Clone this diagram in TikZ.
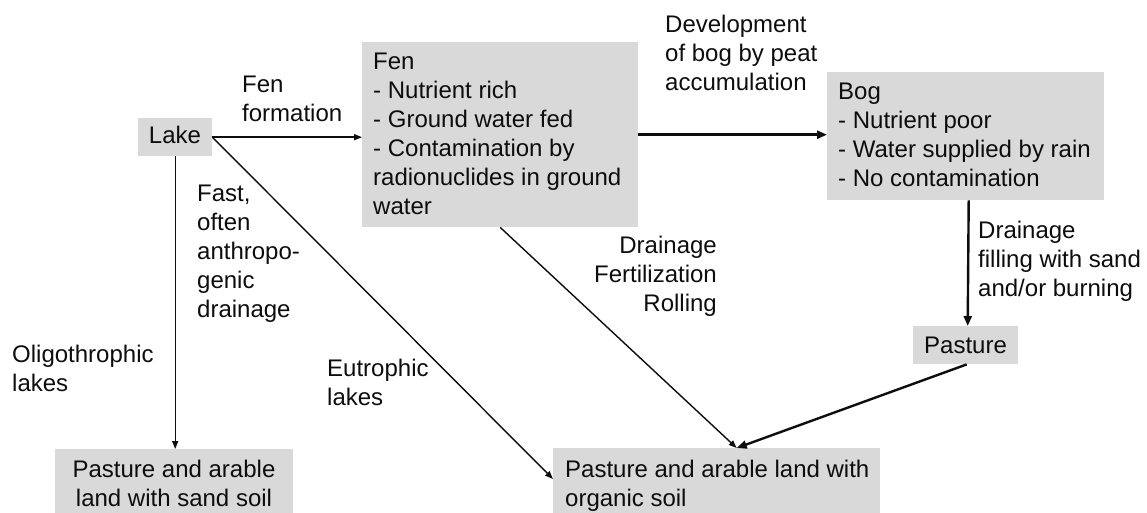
\documentclass[tikz,border=0pt]{standalone}
\usepackage{fontspec}
\setmainfont{Liberation Sans}
\usetikzlibrary{arrows.meta,calc}
\definecolor{boxgray}{HTML}{D9D9D9}
\definecolor{ink}{HTML}{0D0D0D}

\begin{document}
\begin{tikzpicture}[x=1pt,y=-1pt,
  box/.style={fill=boxgray, draw=none, inner sep=0pt, anchor=north west},
  txt/.style={inner sep=0pt, text=ink, font=\fontsize{24}{29}\selectfont, align=left},
  flow/.style={line width=1.4pt, draw=ink, -{Triangle[length=8pt,width=6pt]}},
  mainflow/.style={line width=2.4pt, draw=ink, -{Triangle[length=10pt,width=8pt]}}]

\clip (0,0) rectangle (1147,513);

% grey boxes
\node[box, minimum width=74pt,  minimum height=38pt]  (lake)    at (138,118) {};
\node[box, minimum width=276pt, minimum height=185pt] (fen)     at (362,42)  {};
\node[box, minimum width=277pt, minimum height=128pt] (bog)     at (827,72)  {};
\node[box, minimum width=105pt, minimum height=38pt]  (pasture) at (913,326) {};
\node[box, minimum width=238pt, minimum height=80pt]  (sand)    at (55,449)  {};
\node[box, minimum width=327pt, minimum height=80pt]  (organic) at (553,448) {};

% box contents
\node[txt, anchor=base] (laketxt) at (175,144) {Lake};
\node[txt, anchor=north west] (fentxt) at (373,52.8)
  {Fen\\- Nutrient rich\\- Ground water fed\\- Contamination by\\radionuclides in ground\\water};
\node[txt, anchor=north west] (bogtxt) at (838,82.8)
  {Bog\\- Nutrient poor\\- Water supplied by rain\\- No contamination};
\node[txt, anchor=base] (pasturetxt) at (965.5,353) {Pasture};
\node[txt, anchor=north, align=center] (sandtxt) at (174,459.8)
  {Pasture and arable\\land with sand soil};
\node[txt, anchor=north west] (organictxt) at (565,459.8)
  {Pasture and arable land with\\organic soil};

% transition labels
\node[txt, anchor=north west] (fenform) at (242,75.8) {Fen\\formation};
\node[txt, anchor=north west] (devel) at (665,14.8)
  {Development\\of bog by peat\\accumulation};
\node[txt, anchor=north west] (fast) at (197,184.8)
  {Fast,\\often\\anthropo-\\genic\\drainage};
\node[txt, anchor=north west] (oligo) at (12,344.5) {Oligothrophic\\lakes};
\node[txt, anchor=north west] (eutro) at (327,358.8) {Eutrophic\\lakes};
\node[txt, anchor=north east, align=right] (drainfert) at (717,235.8)
  {Drainage\\Fertilization\\Rolling};
\node[txt, anchor=north west] (drainfill) at (978,220.8)
  {Drainage\\filling with sand\\and/or burning};

% connectors
\coordinate (meet) at ($(organic.north)+(20,0)$);
\draw[flow] (lake.east) -- (lake.east -| fen.west);
\draw[flow] (lake.east) -- ($(organic.north west)+(0,31)$);
\draw[flow] (lake.south) -- (lake.south |- sand.north);
\draw[mainflow] (fen.east) -- (fen.east -| bog.west);
\draw[flow] (fen.south) -- (meet);
\draw[mainflow] ($(bog.south)+(3,0)$) -- ($(pasture.north)+(2,0)$);
\draw[mainflow] ($(pasture.south)+(1,0)$) -- (meet);
\end{tikzpicture}
\end{document}
